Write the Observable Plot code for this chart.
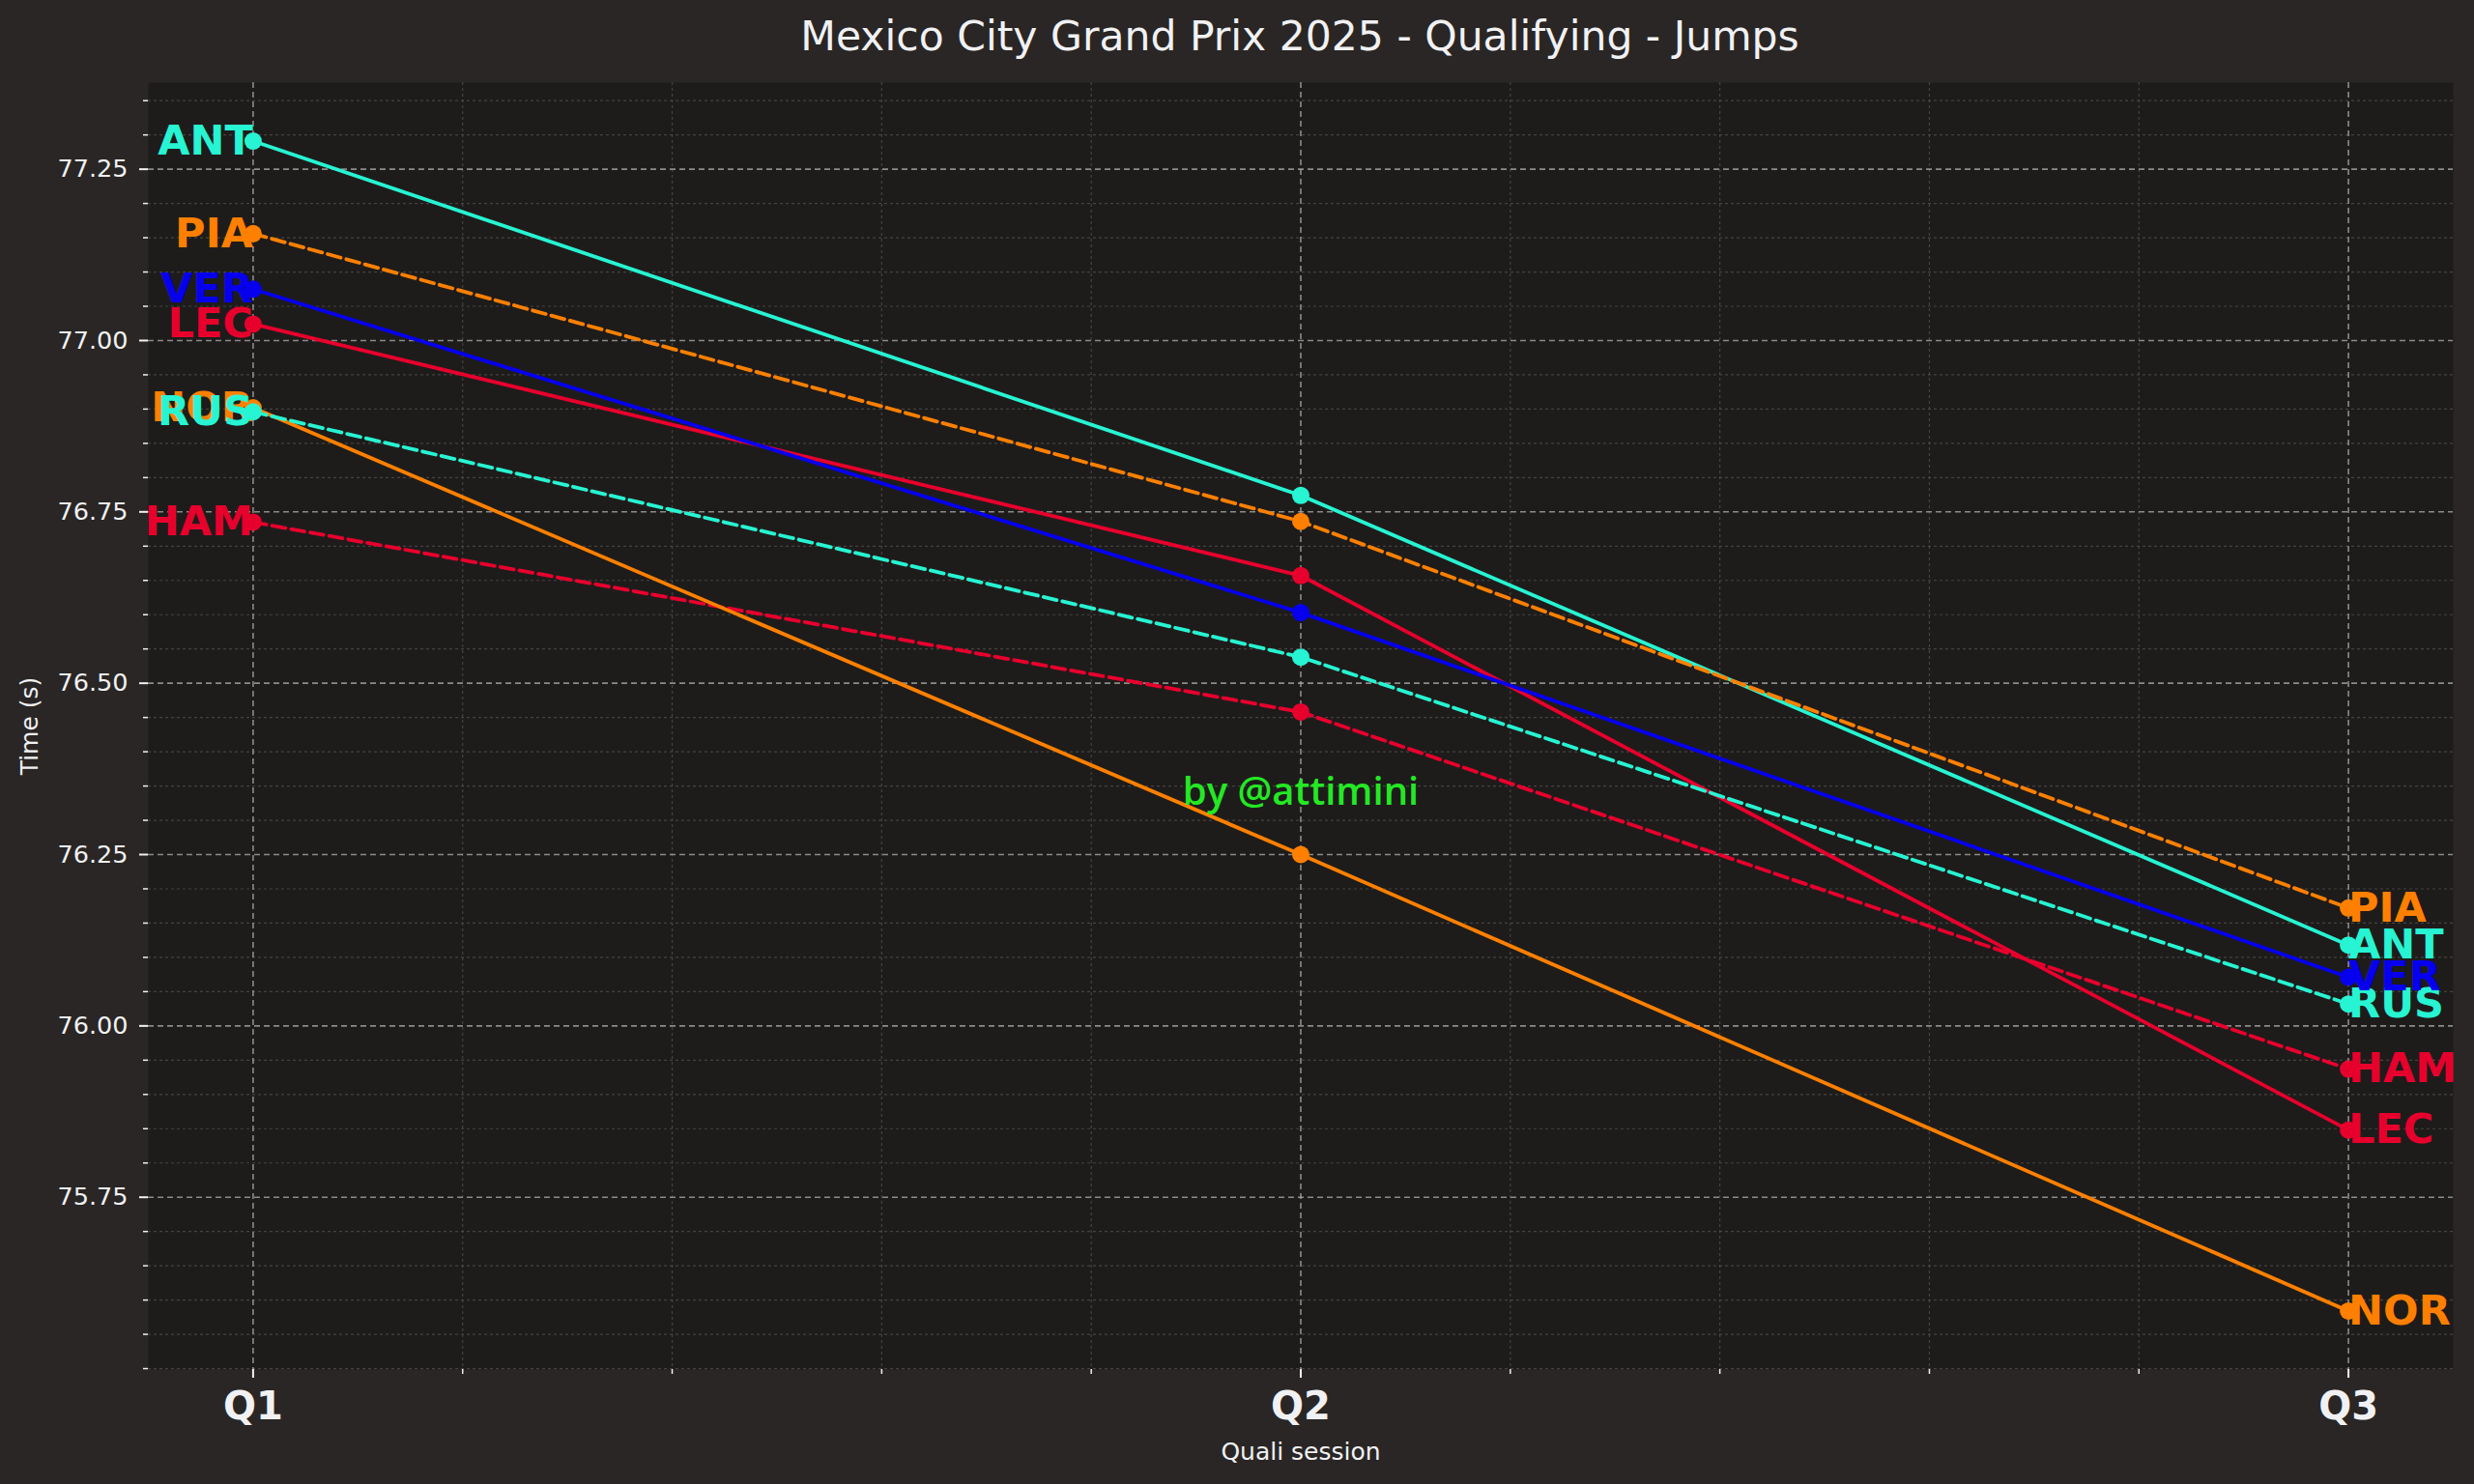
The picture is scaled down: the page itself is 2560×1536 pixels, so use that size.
<!DOCTYPE html>
<html><head><meta charset="utf-8">
<script src="https://cdn.jsdelivr.net/npm/d3@7"></script>
<script src="https://cdn.jsdelivr.net/npm/@observablehq/plot@0.6"></script>
<style>
html,body{margin:0;padding:0;background:#292625;}
#wrap{width:2560px;height:1536px;overflow:hidden;background:#292625;}
#title{height:85px;box-sizing:border-box;padding-left:130px;text-align:center;font-family:"DejaVu Sans";font-size:42.5px;color:#f1f1f3;line-height:76px;}
#chart svg{display:block;}
</style></head><body><div id="wrap"><div id="title">Mexico City Grand Prix 2025 - Qualifying - Jumps</div><div id="chart"></div></div>
<script>
// ---- data ----
const sessions = ["Q1", "Q2", "Q3"];
const drivers = ["ANT", "PIA", "LEC", "HAM", "NOR", "RUS", "VER"];
const timesANT = [77.291, 76.774, 76.118];
const timesPIA = [77.156, 76.736, 76.172];
const timesLEC = [77.024, 76.657, 75.848];
const timesHAM = [76.735, 76.458, 75.937];
const timesNOR = [76.902, 76.250, 75.584];
const timesRUS = [76.896, 76.538, 76.032];
const timesVER = [77.075, 76.603, 76.071];
const driverColors = {ANT: "#27f4d2", RUS: "#27f4d2", PIA: "#ff8000", NOR: "#ff8000", VER: "#0600ef", LEC: "#e8002d", HAM: "#e8002d"};
const dashedDrivers = ["PIA", "RUS", "HAM"];
const yTickValues = [75.75, 76.00, 76.25, 76.50, 76.75, 77.00, 77.25];
const xLabel = "Quali session";
const yLabel = "Time (s)";
const watermark = "by @attimini";
const watermarkPos = {session: 1, time: 76.34};

const timesBy = {ANT: timesANT, PIA: timesPIA, LEC: timesLEC, HAM: timesHAM, NOR: timesNOR, RUS: timesRUS, VER: timesVER};
const rows = drivers.flatMap(d => timesBy[d].map((t, i) => ({driver: d, s: i, t, color: driverColors[d]})));

// matplotlib-like 5% margins
const ext = d3.extent(rows, r => r.t);
const pad = (ext[1] - ext[0]) * 0.05;
const yDomain = [ext[0] - pad, ext[1] + pad];
const xDomain = [-0.1, 2.1];

const xMajor = sessions.map((_, i) => i);
const xMinor = d3.range(0, 2.0001, 0.2).map(v => +v.toFixed(2)).filter(v => !xMajor.includes(v));
const yMinor = d3.range(75.50, 77.40, 0.05).map(v => +v.toFixed(2)).filter(v => !yTickValues.includes(v) && v >= yDomain[0] && v <= yDomain[1]);

const txt = "#f1f1f3";
const driverMarks = drivers.flatMap(d => {
  const data = rows.filter(r => r.driver === d);
  const dash = dashedDrivers.includes(d) ? "14,6" : null;
  return [
    Plot.line(data, {x: "s", y: "t", stroke: "color", strokeWidth: 3.8, strokeDasharray: dash, curve: "linear"}),
    Plot.dot(data, {x: "s", y: "t", fill: "color", r: 9, stroke: null}),
    Plot.text(data.filter(r => r.s === 0), {x: "s", y: "t", text: "driver", fill: "color", textAnchor: "end", lineAnchor: "middle", fontSize: 43, fontWeight: "bold"}),
    Plot.text(data.filter(r => r.s === 2), {x: "s", y: "t", text: "driver", fill: "color", textAnchor: "start", lineAnchor: "middle", fontSize: 43, fontWeight: "bold"})
  ];
});

const chart = Plot.plot({
  width: 2560, height: 1451,
  marginLeft: 153, marginRight: 22, marginTop: 0, marginBottom: 119,
  style: {background: "transparent", fontFamily: "DejaVu Sans", color: txt, overflow: "visible"},
  x: {domain: xDomain},
  y: {domain: yDomain},
  color: {type: "identity"},
  marks: [
    Plot.frame({fill: "#1e1c1b", stroke: null}),
    Plot.gridX(xMinor, {stroke: "#555250", strokeOpacity: 0.7, strokeWidth: 1.2, strokeDasharray: "3,3"}),
    Plot.gridY(yMinor, {stroke: "#555250", strokeOpacity: 0.7, strokeWidth: 1.2, strokeDasharray: "3,3"}),
    Plot.gridX(xMajor, {stroke: "#b0b0b0", strokeOpacity: 0.75, strokeWidth: 1.6, strokeDasharray: "6,4"}),
    Plot.gridY(yTickValues, {stroke: "#b0b0b0", strokeOpacity: 0.75, strokeWidth: 1.6, strokeDasharray: "6,4"}),
    Plot.axisX(xMajor, {tickFormat: i => sessions[i], tickSize: 9, tickPadding: 14, fontSize: 40, fontWeight: "bold", label: null, stroke: txt, strokeWidth: 2, fill: txt}),
    Plot.axisX(xMinor, {tickSize: 5, text: null, label: null, stroke: txt, strokeWidth: 1.5}),
    Plot.axisY(yTickValues, {tickFormat: v => v.toFixed(2), tickSize: 9, tickPadding: 12, fontSize: 25.5, label: null, stroke: txt, strokeWidth: 2, fill: txt}),
    Plot.axisY(yMinor, {tickSize: 5, text: null, label: null, stroke: txt, strokeWidth: 1.5}),
    ...driverMarks,
    Plot.text([watermark], {x: () => watermarkPos.session, y: () => watermarkPos.time, text: d => d, fill: "#24e824", fontSize: 40, fontWeight: 600, fontFamily: "Open Sans", lineAnchor: "middle"}),
    Plot.text([yLabel], {frameAnchor: "left", dx: -123, rotate: -90, text: d => d, fontSize: 25, fill: txt, textAnchor: "middle", lineAnchor: "middle"}),
    Plot.text([xLabel], {frameAnchor: "bottom", dy: 85, text: d => d, fontSize: 25, fill: txt, textAnchor: "middle", lineAnchor: "middle"})
  ]
});
document.getElementById("chart").appendChild(chart);
</script>
</body></html>
